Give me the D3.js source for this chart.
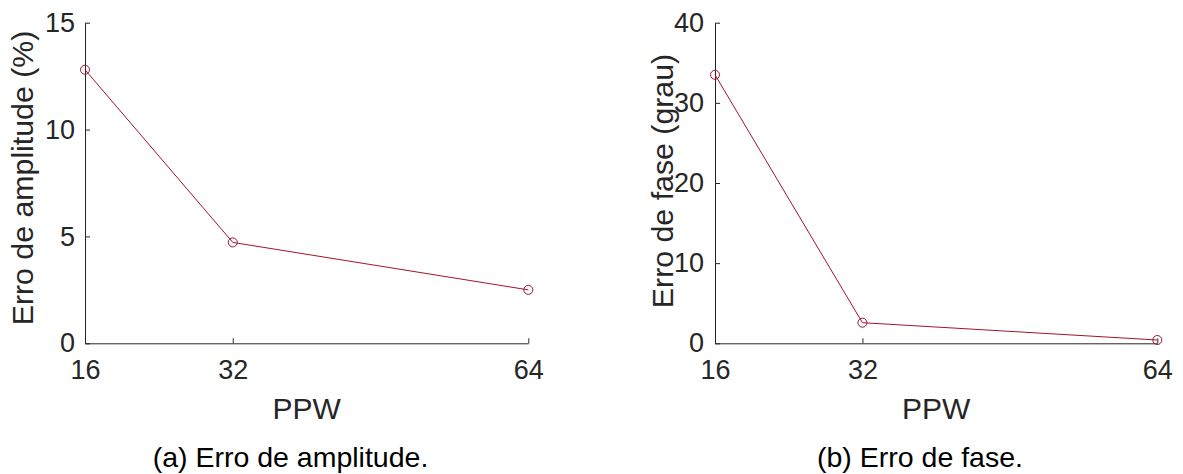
<!DOCTYPE html>
<html>
<head>
<meta charset="utf-8">
<script src="https://cdn.jsdelivr.net/npm/d3@7"></script>
<style>
  html, body { margin: 0; padding: 0; background: #fff; }
  svg { display: block; }
  text { font-family: "Liberation Sans", Arial, Helvetica, sans-serif; }
</style>
</head>
<body>
<svg id="chart" width="1183" height="474"></svg>
<script>
// PPW sampling levels shared by both panels
const ppw = [16, 32, 64];
const xTicks = [16, 32, 64];

// (a) amplitude error, percent
const amplitudeError = [12.8, 4.72, 2.5];
const amplitudeTicks = [0, 5, 10, 15];

// (b) phase error, degrees
const phaseError = [33.5, 2.57, 0.41];
const phaseTicks = [0, 10, 20, 30, 40];

const svg = d3.select("#chart");
const axisColor = "#262626";
const lineColor = "#A2142F";

function panel(cfg) {
  const x = d3.scaleLinear().domain([16, 64]).range([cfg.left, cfg.right]);
  const y = d3.scaleLinear().domain(cfg.yDomain).range([343.3, 22.7]);
  const g = svg.append("g");

  const xAxis = g.append("g")
    .attr("transform", `translate(0,${y(0)})`)
    .call(d3.axisBottom(x).tickValues(xTicks).tickFormat(d3.format("d"))
      .tickSizeInner(-5).tickSizeOuter(0).tickPadding(17));
  const yAxis = g.append("g")
    .attr("transform", `translate(${x(16)},0)`)
    .call(d3.axisLeft(y).tickValues(cfg.yTicks).tickFormat(d3.format("d"))
      .tickSizeInner(-5).tickSizeOuter(0).tickPadding(cfg.yPad));

  [xAxis, yAxis].forEach(a => {
    a.selectAll("path, line").attr("stroke", axisColor).attr("stroke-width", 1);
    a.selectAll("text").attr("fill", axisColor).attr("font-size", 27)
      .style("font-family", '"Liberation Sans", Arial, Helvetica, sans-serif');
  });

  const pts = cfg.values.map((v, i) => ({ x: ppw[i], y: v }));
  g.append("path")
    .datum(pts)
    .attr("fill", "none")
    .attr("stroke", lineColor)
    .attr("stroke-width", 1)
    .attr("d", d3.line().x(d => x(d.x)).y(d => y(d.y)));
  g.selectAll("circle.m").data(pts).join("circle")
    .attr("class", "m")
    .attr("cx", d => x(d.x)).attr("cy", d => y(d.y)).attr("r", 4.5)
    .attr("fill", "none").attr("stroke", lineColor).attr("stroke-width", 1);

  g.append("text")
    .attr("x", (cfg.left + cfg.right) / 2).attr("y", 419)
    .attr("text-anchor", "middle").attr("font-size", 30).attr("fill", axisColor)
    .text("PPW");
  g.append("text")
    .attr("transform", `translate(${cfg.labelX},${cfg.labelY}) rotate(-90)`)
    .attr("text-anchor", "middle").attr("font-size", 30.3).attr("fill", axisColor)
    .text(cfg.yLabel);
  g.append("text")
    .attr("x", cfg.captionX).attr("y", 467)
    .attr("text-anchor", "middle").attr("font-size", 28.5).attr("fill", "#000")
    .text(cfg.caption);
}

panel({
  left: 85, right: 528.3, yDomain: [0, 15], yTicks: amplitudeTicks,
  values: amplitudeError, yPad: 10, labelX: 33, labelY: 178,
  yLabel: "Erro de amplitude (%)", caption: "(a) Erro de amplitude.", captionX: 290.5
});
panel({
  left: 715, right: 1157.3, yDomain: [0, 40], yTicks: phaseTicks,
  values: phaseError, yPad: 11, labelX: 673, labelY: 181,
  yLabel: "Erro de fase (grau)", caption: "(b) Erro de fase.", captionX: 920
});
</script>
</body>
</html>
